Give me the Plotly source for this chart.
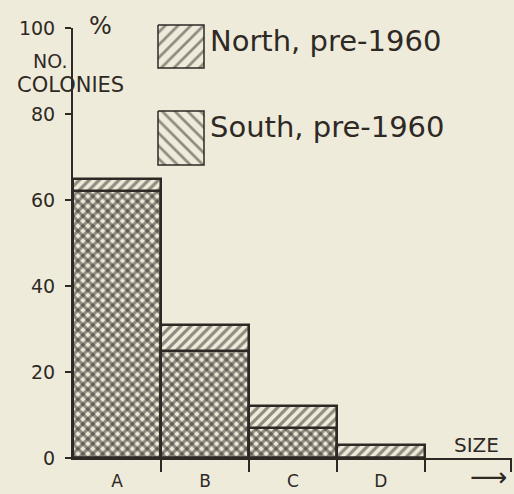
import plotly.graph_objects as go

# ---- data ----
categories = ["A", "B", "C", "D"]
north_pre1960 = [65, 31, 12, 3]
south_pre1960 = [62, 25, 7, 0]
y_ticks = [0, 20, 40, 60, 80, 100]
series_names = ["North, pre-1960", "South, pre-1960"]

W, H = 514, 494
BG = "#EFEBDA"
INK = "#2E2925"
FONT = "DejaVu Sans"

xpos = list(range(len(categories)))

fig = go.Figure()

fig.add_trace(go.Bar(
    x=xpos, y=north_pre1960, width=1, name=series_names[0],
    marker=dict(color="rgba(0,0,0,0)",
                line=dict(color=INK, width=2.5),
                pattern=dict(shape="/", fgcolor=INK, bgcolor="rgba(0,0,0,0)",
                             size=7, solidity=0.45)),
    showlegend=False,
))
fig.add_trace(go.Bar(
    x=xpos, y=south_pre1960, width=1, name=series_names[1],
    marker=dict(color="rgba(0,0,0,0)",
                line=dict(color=INK, width=2.5),
                pattern=dict(shape="\\", fgcolor=INK, bgcolor="rgba(0,0,0,0)",
                             size=7, solidity=0.45)),
    showlegend=False,
))

# ---- legend key patches (drawn on a pixel-space helper axis) ----
def rect(x0, y0, x1, y1):
    return [x0, x1, x1, x0, x0], [y0, y0, y1, y1, y0]

for (y0, y1), ytxt, shape, label in [((25, 68), 41, "/", series_names[0]),
                                     ((111, 165), 127, "\\", series_names[1])]:
    rx, ry = rect(158, y0, 204, y1)
    fig.add_trace(go.Scatter(
        x=rx, y=ry, xaxis="x2", yaxis="y2", mode="lines", fill="toself",
        fillcolor="rgba(0,0,0,0)",
        fillpattern=dict(shape=shape, fgcolor=INK, bgcolor="rgba(0,0,0,0)",
                         size=9, solidity=0.3),
        line=dict(color=INK, width=1.5), showlegend=False, hoverinfo="skip",
    ))
    fig.add_annotation(x=208 / W, y=1 - ytxt / H, xref="paper", yref="paper",
                       text=label, showarrow=False, xanchor="left", yanchor="middle",
                       font=dict(family=FONT, size=29, color=INK))

fig.update_layout(
    width=W, height=H,
    margin=dict(l=0, r=0, t=0, b=0),
    paper_bgcolor=BG, plot_bgcolor="rgba(0,0,0,0)",
    barmode="overlay", bargap=0,
    font=dict(family=FONT, color=INK),
    xaxis=dict(
        domain=[73 / W, 512 / W], range=[-0.5, 4.49],
        tickmode="array", tickvals=xpos, ticktext=categories, ticks="",
        ticklabelstandoff=7,
        tickfont=dict(size=17, color=INK),
        showline=True, linecolor=INK, linewidth=2,
        showgrid=False, zeroline=False, automargin=False,
        minor=dict(tickmode="array", tickvals=[0.5, 1.5, 2.5, 3.5, 4.48],
                   ticks="outside", ticklen=12, tickcolor=INK, tickwidth=2),
        anchor="y",
    ),
    yaxis=dict(
        domain=[1 - 458 / H, 1 - 28 / H], range=[0, 100],
        tickmode="array", tickvals=y_ticks, ticks="outside", ticklen=6,
        tickcolor=INK, tickwidth=2, ticklabelstandoff=6,
        tickfont=dict(size=19, color=INK),
        showline=True, linecolor=INK, linewidth=2,
        showgrid=False, zeroline=False, anchor="x", automargin=False,
    ),
    xaxis2=dict(domain=[0, 1], range=[0, W], visible=False, anchor="y2",
                fixedrange=True, automargin=False),
    yaxis2=dict(domain=[0, 1], range=[H, 0], visible=False, anchor="x2",
                fixedrange=True, automargin=False),
)

def label(text, xpx, ypx, size):
    fig.add_annotation(x=xpx / W, y=1 - ypx / H, xref="paper", yref="paper", text=text,
                       showarrow=False, xanchor="center", yanchor="middle",
                       font=dict(family=FONT, size=size, color=INK))

label("%", 100, 26, 24)
label("NO.", 50, 61, 19)
label("COLONIES", 70, 85, 21)
label("SIZE", 476, 445, 20)
label("⟶", 488, 477, 26)

fig.write_html("out.html", config={"displayModeBar": False},
               post_script="document.body.style.margin='0';document.body.style.background='%s';" % BG)
